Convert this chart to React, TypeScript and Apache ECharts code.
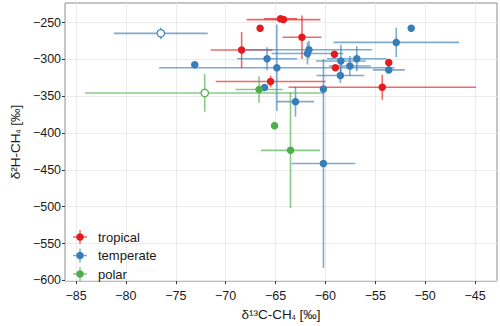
import React, { useEffect, useRef } from "react";
import * as echarts from "echarts";

// [x (δ13C), y (δ2H), x error, y error, hollow (1 = open symbol)]
const tropical: number[][] = [
  [-68.4, -287.4, 3.1, 24.6, 0],
  [-64.5, -244.8, 1.65, 0, 0],
  [-64.2, -246.0, 3.7, 0, 0],
  [-66.55, -257.8, 0, 0, 0],
  [-62.35, -270.0, 1.95, 29.6, 0],
  [-59.1, -293.0, 0, 0, 0],
  [-59.0, -311.3, 0, 0, 0],
  [-53.65, -304.4, 0, 0, 0],
  [-65.5, -330.0, 5.5, 8, 0],
  [-54.3, -337.8, 9.4, 17, 0],
];

const temperate: number[][] = [
  [-76.5, -264.7, 4.7, 8, 1],
  [-73.1, -307.4, 0, 0, 0],
  [-51.4, -257.8, 0, 0, 0],
  [-52.9, -277.0, 6.3, 20, 0],
  [-61.65, -287.0, 6.3, 12, 0],
  [-61.8, -292.0, 3.6, 15, 0],
  [-65.85, -299.2, 3.0, 15.5, 0],
  [-64.87, -311.3, 11.8, 58.7, 0],
  [-66.1, -338.3, 0, 0, 0],
  [-63.0, -357.4, 1.85, 20.4, 0],
  [-60.2, -340.4, 0, 0, 0],
  [-60.2, -441.4, 3.2, 141.7, 0],
  [-58.45, -302.2, 2.5, 22, 0],
  [-56.85, -299.2, 3.0, 17, 0],
  [-57.55, -309.0, 2.1, 13.5, 0],
  [-58.5, -322.0, 2.4, 10, 0],
  [-53.65, -314.3, 1.6, 0, 0],
];

const polar: number[][] = [
  [-72.1, -345.6, 12, 25.6, 1],
  [-66.65, -340.9, 2.35, 18, 0],
  [-65.1, -390.0, 0, 0, 0],
  [-63.5, -423.5, 2.96, 78.5, 0],
];

const groupNames = ["tropical", "temperate", "polar"];
const groupColors = ["#E41A1C", "#377EB8", "#4DAF4A"];
const groupData = [tropical, temperate, polar];

const xTicks = [-85, -80, -75, -70, -65, -60, -55, -50, -45];
const yTicks = [-600, -550, -500, -450, -400, -350, -300, -250];

const FONT = "'Liberation Sans', Arial, Helvetica, sans-serif";
const CROSS_ICON = "path://M0,9H20V11H0Z M9,0H11V20H9Z";

const fmt = (v: number | string) => String(v).replace("-", "\u2212");

export default function App() {
  const ref = useRef<HTMLDivElement>(null);

  useEffect(() => {
    if (!ref.current) return;
    const chart = echarts.init(ref.current, undefined, { renderer: "svg" });

    const errorSeries = groupData.map((data, gi) => ({
      type: "custom",
      name: groupNames[gi],
      data: data.map((d) => [d[0], d[1], d[2], d[3]]),
      dimensions: ["x", "y", "xe", "ye"],
      encode: { x: 0, y: 1 },
      z: 2,
      renderItem: (params: any, api: any) => {
        const x = api.value(0);
        const y = api.value(1);
        const xe = api.value(2);
        const ye = api.value(3);
        const children: any[] = [];
        const style = {
          stroke: groupColors[gi],
          lineWidth: 1.6,
          opacity: 0.65,
        };
        if (xe > 0) {
          const a = api.coord([x - xe, y]);
          const b = api.coord([x + xe, y]);
          children.push({
            type: "line",
            shape: { x1: a[0], y1: a[1], x2: b[0], y2: b[1] },
            style,
          });
        }
        if (ye > 0) {
          const a = api.coord([x, y - ye]);
          const b = api.coord([x, y + ye]);
          children.push({
            type: "line",
            shape: { x1: a[0], y1: a[1], x2: b[0], y2: b[1] },
            style,
          });
        }
        return { type: "group", children };
      },
    }));

    const pointSeries = groupData.map((data, gi) => ({
      type: "scatter",
      name: groupNames[gi],
      symbol: "circle",
      symbolSize: 7.5,
      z: 3,
      itemStyle: { color: groupColors[gi], opacity: 1 },
      data: data.map((d) =>
        d[4]
          ? {
              value: [d[0], d[1]],
              itemStyle: {
                color: "#ffffff",
                borderColor: groupColors[gi],
                borderWidth: 1.2,
              },
            }
          : { value: [d[0], d[1]] }
      ),
    }));

    const legendText = {
      fontFamily: FONT,
      fontSize: 13,
      color: "#1a1a1a",
      lineHeight: 18,
      padding: [0, 0, 0, 6],
    };

    const nameRich = {
      a: { fontFamily: FONT, fontSize: 13.5, color: "#1a1a1a" },
      s: {
        fontFamily: FONT,
        fontSize: 7,
        color: "#1a1a1a",
        verticalAlign: "bottom",
        padding: [6, 0, 0, 0],
      },
    };

    chart.setOption({
      animation: false,
      backgroundColor: "#ffffff",
      grid: {
        left: 51,
        right: 3,
        top: 3,
        bottom: 34,
        show: true,
        borderColor: "#8c8c8c",
        borderWidth: 1,
      },
      legend: [
        {
          orient: "vertical",
          left: 68,
          top: 223,
          itemWidth: 14,
          itemHeight: 14,
          itemGap: 0.5,
          selectedMode: false,
          textStyle: legendText,
          data: groupNames.map((n, i) => ({
            name: n,
            icon: CROSS_ICON,
            itemStyle: { color: groupColors[i], opacity: 0.65 },
          })),
        },
        {
          orient: "vertical",
          left: 71.25,
          top: 228.25,
          itemWidth: 7.5,
          itemHeight: 7.5,
          itemGap: 11,
          selectedMode: false,
          formatter: () => "",
          textStyle: { fontSize: 1, padding: 0 },
          data: groupNames.map((n, i) => ({
            name: n,
            icon: "circle",
            itemStyle: { color: groupColors[i], opacity: 1 },
          })),
        },
      ],
      xAxis: {
        type: "value",
        min: -86.1,
        max: -42.8,
        name: "{a|δ¹³C-CH}{s|4}{a| [‰]}",
        nameLocation: "middle",
        nameGap: 24,
        nameTextStyle: { rich: nameRich },
        axisLine: { show: false },
        axisTick: {
          show: true,
          length: 3,
          customValues: xTicks,
          lineStyle: { color: "#333" },
        },
        axisLabel: {
          customValues: xTicks,
          formatter: fmt,
          margin: 8,
          fontFamily: FONT,
          fontSize: 12.5,
          color: "#1a1a1a",
        },
        splitLine: { show: true, lineStyle: { color: "#ebebeb", width: 1 } },
      },
      yAxis: {
        type: "value",
        min: -601,
        max: -223.5,
        name: "{a|δ²H-CH}{s|4}{a| [‰]}",
        nameLocation: "middle",
        nameRotate: 90,
        nameGap: 36,
        nameTextStyle: { rich: nameRich },
        axisLine: { show: false },
        axisTick: {
          show: true,
          length: 3,
          customValues: yTicks,
          lineStyle: { color: "#333" },
        },
        axisLabel: {
          customValues: yTicks,
          formatter: fmt,
          margin: 4,
          fontFamily: FONT,
          fontSize: 12.5,
          color: "#1a1a1a",
        },
        splitLine: { show: true, lineStyle: { color: "#ebebeb", width: 1 } },
      },
      series: [...errorSeries, ...pointSeries],
    });

    return () => chart.dispose();
  }, []);

  return (
    <div
      ref={ref}
      style={{ position: "fixed", left: 0, top: 0, width: 500, height: 326 }}
    />
  );
}
